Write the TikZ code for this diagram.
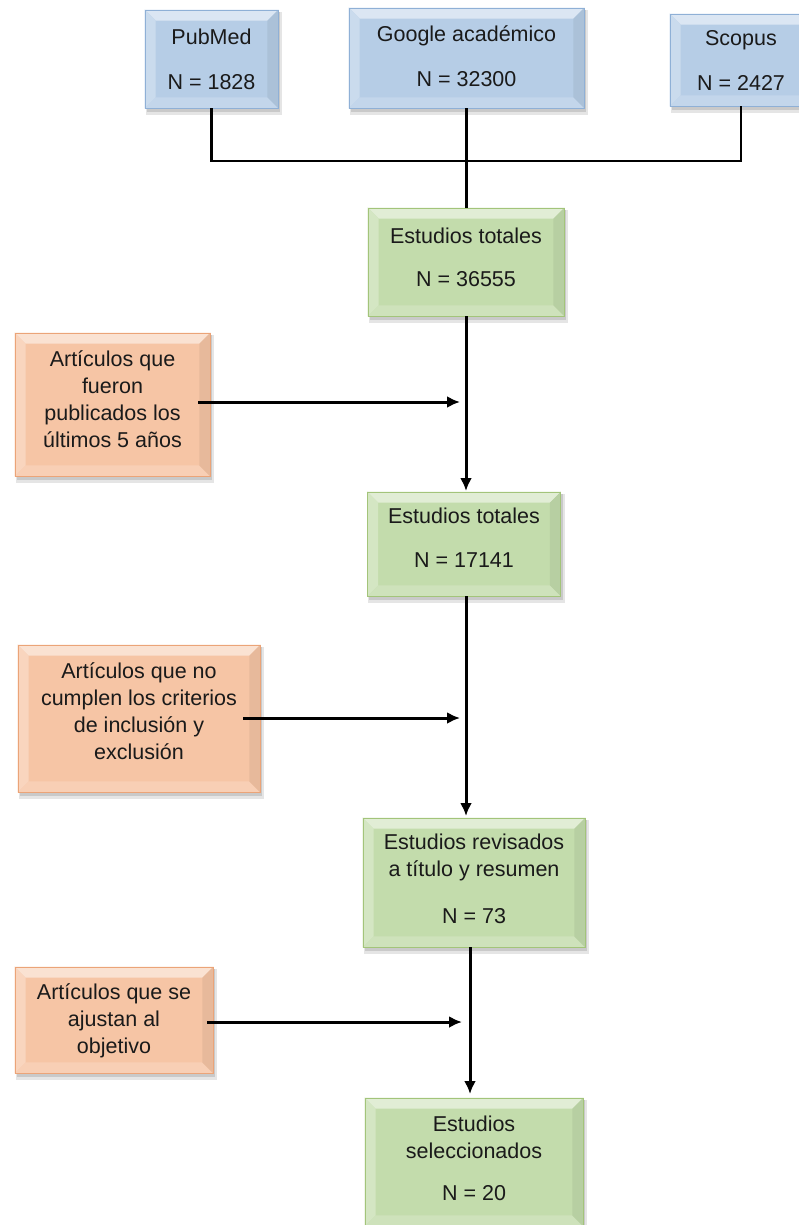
\documentclass[tikz,border=0pt]{standalone}
\usepackage{fontspec}
\setmainfont{Liberation Sans}
\usetikzlibrary{arrows.meta}
\pgfdeclarelayer{background}
\pgfsetlayers{background,main}
\definecolor{bluefill}{HTML}{B6CDE6}
\definecolor{blueline}{HTML}{8FB0D6}
\definecolor{greenfill}{HTML}{C3DCAC}
\definecolor{greenline}{HTML}{A3C47A}
\definecolor{orangefill}{HTML}{F6C5A5}
\definecolor{orangeline}{HTML}{EBA478}
\definecolor{txt}{HTML}{1A1A1A}
\tikzset{
  x=1pt,y=1pt,
  boxbase/.style={inner sep=2pt, align=center, text=txt,
    font=\fontsize{21.5}{27}\selectfont, line width=0.9pt},
  bluebox/.style={boxbase, draw=blueline},
  greenbox/.style={boxbase, draw=greenline},
  orangebox/.style={boxbase, draw=orangeline},
  conn/.style={line width=2.4pt, draw=black},
  flowarr/.style={-{Latex[length=13pt,width=12pt]}, draw=black, line width=3pt},
}
\newcommand\bev[2]{%
\begin{pgfonlayer}{background}
  \fill[black,opacity=0.10] ([shift={(1pt,-7pt)}]#1.south west) rectangle ([shift={(4pt,-2pt)}]#1.north east);
  \fill[black,opacity=0.12] ([shift={(2pt,-4pt)}]#1.south west) rectangle ([shift={(2pt,-2pt)}]#1.north east);
  \fill[#2] (#1.south west) rectangle (#1.north east);
  \fill[#2!50!white] (#1.north west) -- (#1.north east) -- ([shift={(-11pt,-11pt)}]#1.north east) -- ([shift={(11pt,-11pt)}]#1.north west) -- cycle;
  \fill[#2!72!white] (#1.north west) -- (#1.south west) -- ([shift={(11pt,11pt)}]#1.south west) -- ([shift={(11pt,-11pt)}]#1.north west) -- cycle;
  \fill[#2!82!white] (#1.south west) -- (#1.south east) -- ([shift={(-11pt,11pt)}]#1.south east) -- ([shift={(11pt,11pt)}]#1.south west) -- cycle;
  \fill[#2!94!black] (#1.north east) -- (#1.south east) -- ([shift={(-11pt,11pt)}]#1.south east) -- ([shift={(-11pt,-11pt)}]#1.north east) -- cycle;
\end{pgfonlayer}}
\begin{document}
\begin{tikzpicture}
\useasboundingbox (0,0) rectangle (798,-1225);
% top sources
\node[bluebox, minimum width=133, minimum height=98] (pub) at (211.5,-59) {PubMed\\[18pt]N = 1828};
\node[bluebox, minimum width=235, minimum height=100, text depth=4pt] (goo) at (466.5,-58) {Google académico\\[18pt]N = 32300};
\node[bluebox, minimum width=142, minimum height=92, text depth=0pt] (sco) at (741,-60) {Scopus\\[18pt]N = 2427};
\bev{pub}{bluefill}\bev{goo}{bluefill}\bev{sco}{bluefill}
% green chain
\node[greenbox, minimum width=196, minimum height=108, text depth=10pt] (t1) at (466,-262) {Estudios totales\\[16pt]N = 36555};
\node[greenbox, minimum width=193, minimum height=104, text depth=12pt] (t2) at (464,-544) {Estudios totales\\[17pt]N = 17141};
\node[greenbox, minimum width=222, minimum height=129, text depth=8pt] (t3) at (474,-882.5) {Estudios revisados\\a título y resumen\\[20pt]N = 73};
\node[greenbox, minimum width=218, minimum height=128, text depth=8pt] (t4) at (474,-1162) {Estudios\\seleccionados\\[15pt]N = 20};
\bev{t1}{greenfill}\bev{t2}{greenfill}\bev{t3}{greenfill}\bev{t4}{greenfill}
% orange exclusions
\node[orangebox, minimum width=195, minimum height=143, text depth=10pt] (o1) at (112.5,-404.5) {Artículos que\\fueron\\publicados los\\últimos 5 años};
\node[orangebox, minimum width=242, minimum height=147, text depth=14pt] (o2) at (139,-718.5) {Artículos que no\\cumplen los criterios\\de inclusión y\\exclusión};
\node[orangebox, minimum width=198, minimum height=106, text depth=2pt] (o3) at (114,-1020) {Artículos que se\\ajustan al\\objetivo};
\bev{o1}{orangefill}\bev{o2}{orangefill}\bev{o3}{orangefill}
% junction
\coordinate (j) at (466.5,-161);
\draw[conn] (pub.south) |- (j);
\draw[conn] (sco.south) |- (j);
\draw[conn] (goo.south) -- (goo.south |- t1.north);
% main flow
\coordinate (e1) at (466,-491);
\coordinate (e2) at (466,-816);
\coordinate (m3) at (470,-947);
\coordinate (e3) at (470,-1094);
\draw[flowarr] (t1.south) -- (e1);
\draw[flowarr] (t2.south -| e2) -- (e2);
\draw[flowarr] (m3) -- (e3);
% side arrows
\coordinate (a1) at (460,-402);
\coordinate (a2) at (460,-718);
\coordinate (a3) at (462,-1022);
\draw[flowarr] ([xshift=-12pt]o1.east |- a1) -- (a1);
\draw[flowarr] ([xshift=-17pt]o2.east |- a2) -- (a2);
\draw[flowarr] ([xshift=-6pt]o3.east |- a3) -- (a3);
\end{tikzpicture}
\end{document}
